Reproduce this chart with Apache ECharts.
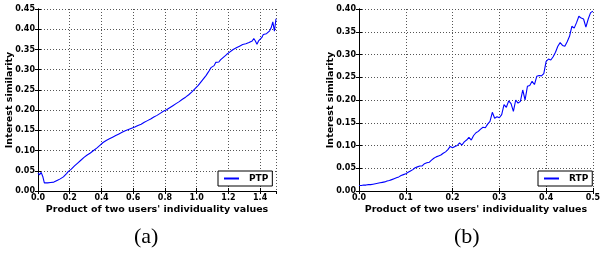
<!DOCTYPE html>
<html>
<head>
<meta charset="utf-8">
<script src="https://cdn.jsdelivr.net/npm/echarts@6/dist/echarts.min.js"></script>
<style>
html,body{margin:0;padding:0;background:#fff;}
#c{width:603px;height:255px;}
</style>
</head>
<body>
<div id="c"></div>
<script>
// ---- data ----
const ptpX = [0.00,0.01,0.02,0.03,0.04,0.05,0.06,0.07,0.08,0.09,
0.10,0.11,0.12,0.13,0.14,0.15,0.16,0.17,0.18,0.19,
0.20,0.21,0.22,0.23,0.24,0.25,0.26,0.27,0.28,0.29,
0.30,0.31,0.32,0.33,0.34,0.35,0.36,0.37,0.38,0.39,
0.40,0.41,0.42,0.43,0.44,0.45,0.46,0.47,0.48,0.49,
0.50,0.51,0.52,0.53,0.54,0.55,0.56,0.57,0.58,0.59,
0.60,0.61,0.62,0.63,0.64,0.65,0.66,0.67,0.68,0.69,
0.70,0.71,0.72,0.73,0.74,0.75,0.76,0.77,0.78,0.79,
0.80,0.81,0.82,0.83,0.84,0.85,0.86,0.87,0.88,0.89,
0.90,0.91,0.92,0.93,0.94,0.95,0.96,0.97,0.98,0.99,
1.00,1.01,1.02,1.03,1.04,1.05,1.06,1.07,1.08,1.09,
1.10,1.11,1.12,1.13,1.14,1.15,1.16,1.17,1.18,1.19,
1.20,1.21,1.22,1.23,1.24,1.25,1.26,1.27,1.28,1.29,
1.30,1.31,1.32,1.33,1.34,1.35,1.36,1.37,1.38,1.39,
1.40,1.41,1.42,1.43,1.44,1.45,1.46,1.47,1.48,1.49,1.50];
const ptpY = [0.045,0.040,0.046,0.036,0.020,0.019,0.020,0.021,0.021,0.021,
0.022,0.024,0.026,0.028,0.030,0.032,0.035,0.039,0.043,0.048,
0.051,0.054,0.058,0.062,0.065,0.069,0.073,0.076,0.080,0.083,
0.086,0.089,0.091,0.094,0.097,0.100,0.103,0.106,0.109,0.113,
0.117,0.120,0.123,0.125,0.127,0.129,0.131,0.133,0.135,0.137,
0.139,0.141,0.143,0.145,0.147,0.149,0.150,0.152,0.153,0.155,
0.156,0.158,0.160,0.162,0.163,0.165,0.167,0.170,0.172,0.174,
0.176,0.178,0.180,0.183,0.185,0.187,0.190,0.192,0.195,0.197,
0.199,0.201,0.203,0.206,0.208,0.211,0.213,0.216,0.219,0.221,
0.224,0.227,0.229,0.232,0.235,0.238,0.241,0.245,0.249,0.253,
0.257,0.261,0.266,0.271,0.276,0.281,0.286,0.292,0.298,0.305,
0.303,0.310,0.318,0.320,0.319,0.324,0.328,0.331,0.335,0.338,
0.341,0.344,0.347,0.350,0.352,0.354,0.356,0.358,0.360,0.362,
0.363,0.364,0.366,0.367,0.368,0.371,0.377,0.371,0.363,0.371,
0.372,0.379,0.387,0.391,0.389,0.392,0.396,0.404,0.418,0.395,0.426];

const rtpX = [0.000,0.005,0.010,0.015,0.020,0.025,0.030,0.035,0.040,0.045,
0.050,0.055,0.060,0.065,0.070,0.075,0.080,0.085,0.090,0.095,
0.100,0.105,0.110,0.115,0.120,0.125,0.130,0.135,0.140,0.145,
0.150,0.155,0.160,0.165,0.170,0.175,0.180,0.185,0.190,0.195,
0.200,0.205,0.210,0.215,0.220,0.225,0.230,0.235,0.240,0.245,
0.250,0.255,0.260,0.265,0.270,0.275,0.280,0.285,0.290,0.295,
0.300,0.305,0.310,0.315,0.320,0.325,0.330,0.335,0.340,0.345,
0.350,0.355,0.360,0.365,0.370,0.375,0.380,0.385,0.390,0.395,
0.400,0.405,0.410,0.415,0.420,0.425,0.430,0.435,0.440,0.445,
0.450,0.455,0.460,0.465,0.470,0.475,0.480,0.485,0.490,0.495,0.500];
const rtpY = [0.012,0.012,0.013,0.013,0.014,0.014,0.015,0.016,0.017,0.018,
0.019,0.020,0.022,0.023,0.025,0.027,0.029,0.031,0.034,0.036,
0.038,0.041,0.044,0.047,0.051,0.053,0.055,0.055,0.060,0.062,
0.063,0.068,0.072,0.075,0.077,0.079,0.083,0.086,0.091,0.098,
0.095,0.098,0.100,0.106,0.101,0.108,0.112,0.118,0.112,0.122,
0.128,0.131,0.136,0.140,0.139,0.147,0.153,0.173,0.160,0.163,
0.161,0.168,0.190,0.184,0.198,0.192,0.175,0.200,0.193,0.197,
0.222,0.200,0.230,0.232,0.241,0.234,0.252,0.254,0.253,0.258,
0.285,0.290,0.288,0.295,0.305,0.318,0.326,0.320,0.318,0.328,
0.340,0.362,0.358,0.370,0.384,0.380,0.378,0.360,0.378,0.392,0.395];

const seriesNames = ['PTP', 'RTP'];
const panelLabels = ['(a)', '(b)'];
const xAxisName = "Product of two users' individuality values";
const yAxisName = 'Interest similarity';
const xMax = [1.5, 0.5];
const xInterval = [0.2, 0.1];
const yMax = [0.45, 0.40];

// ---- chart ----
const FONT = 'DejaVu Sans';
const grids = [
  {left: 38, top: 9, width: 238, height: 182},
  {left: 359, top: 9, width: 238, height: 182}
];
const zip = (xs, ys) => xs.map((x, i) => [x, ys[i]]);

const xAxes = [], yAxes = [];
[0, 1].forEach(g => {
  xAxes.push({
    type: 'value', gridIndex: g, min: 0, max: xMax[g], interval: xInterval[g],
    position: 'bottom',
    name: xAxisName, nameLocation: 'middle', nameGap: 14, nameMoveOverlap: false,
    nameTextStyle: {fontFamily: FONT, fontWeight: 'bold', fontSize: 9.5, color: '#000'},
    axisLine: {show: true, lineStyle: {color: '#000', width: 1}},
    axisTick: {show: true, inside: true, length: 3, lineStyle: {color: '#000'}},
    axisLabel: {fontFamily: FONT, fontWeight: 'bold', fontSize: 8, color: '#000', margin: 3,
      showMaxLabel: g === 1,
      formatter: v => v.toFixed(1)},
    splitLine: {show: true, lineStyle: {type: [1, 2], color: '#555', width: 1}}
  });
  xAxes.push({
    type: 'value', gridIndex: g, min: 0, max: xMax[g], interval: xInterval[g],
    position: 'top',
    axisLine: {show: true, lineStyle: {color: '#000', width: 1}},
    axisTick: {show: true, inside: true, length: 3, lineStyle: {color: '#000'}},
    axisLabel: {show: false}, splitLine: {show: false}
  });
  yAxes.push({
    type: 'value', gridIndex: g, min: 0, max: yMax[g], interval: 0.05,
    position: 'left',
    name: yAxisName, nameLocation: 'middle', nameGap: 23, nameMoveOverlap: false,
    nameTextStyle: {fontFamily: FONT, fontWeight: 'bold', fontSize: 9.5, color: '#000'},
    axisLine: {show: true, lineStyle: {color: '#000', width: 1}},
    axisTick: {show: true, inside: true, length: 3, lineStyle: {color: '#000'}},
    axisLabel: {fontFamily: FONT, fontWeight: 'bold', fontSize: 8, color: '#000', margin: 3,
      formatter: v => v.toFixed(2)},
    splitLine: {show: true, lineStyle: {type: [1, 2], color: '#555', width: 1}}
  });
  yAxes.push({
    type: 'value', gridIndex: g, min: 0, max: yMax[g], interval: 0.05,
    position: 'right',
    axisLine: {show: true, lineStyle: {color: '#000', width: 1}},
    axisTick: {show: true, inside: true, length: 3, lineStyle: {color: '#000'}},
    axisLabel: {show: false}, splitLine: {show: false}
  });
});

const legendBase = {
  orient: 'horizontal', backgroundColor: '#fff', borderColor: '#000', borderWidth: 1,
  borderRadius: 0, padding: [3, 4, 3, 6], itemWidth: 15, itemHeight: 2, itemGap: 0,
  icon: 'rect',
  textStyle: {fontFamily: FONT, fontWeight: 'bold', fontSize: 9, color: '#000', padding: [0, 0, 0, 5]}
};

const option = {
  animation: false,
  backgroundColor: '#fff',
  grid: grids,
  xAxis: xAxes,
  yAxis: yAxes,
  legend: [
    Object.assign({}, legendBase, {data: [seriesNames[0]], left: 218, top: 171}),
    Object.assign({}, legendBase, {data: [seriesNames[1]], left: 538, top: 171})
  ],
  series: [
    {name: seriesNames[0], type: 'line', xAxisIndex: 0, yAxisIndex: 0,
     data: zip(ptpX, ptpY), showSymbol: false, symbol: 'none',
     lineStyle: {color: '#0000ff', width: 1.1}, itemStyle: {color: '#0000ff'}},
    {name: seriesNames[1], type: 'line', xAxisIndex: 2, yAxisIndex: 2,
     data: zip(rtpX, rtpY), showSymbol: false, symbol: 'none',
     lineStyle: {color: '#0000ff', width: 1.1}, itemStyle: {color: '#0000ff'}}
  ],
  graphic: [
    {type: 'text', left: 134, top: 226, style: {text: panelLabels[0], font: '22px "Liberation Serif"', fill: '#000'}},
    {type: 'text', left: 454, top: 226, style: {text: panelLabels[1], font: '22px "Liberation Serif"', fill: '#000'}}
  ]
};
const chart = echarts.init(document.getElementById('c'), null, {renderer: 'canvas'});
chart.setOption(option);
</script>
</body>
</html>
